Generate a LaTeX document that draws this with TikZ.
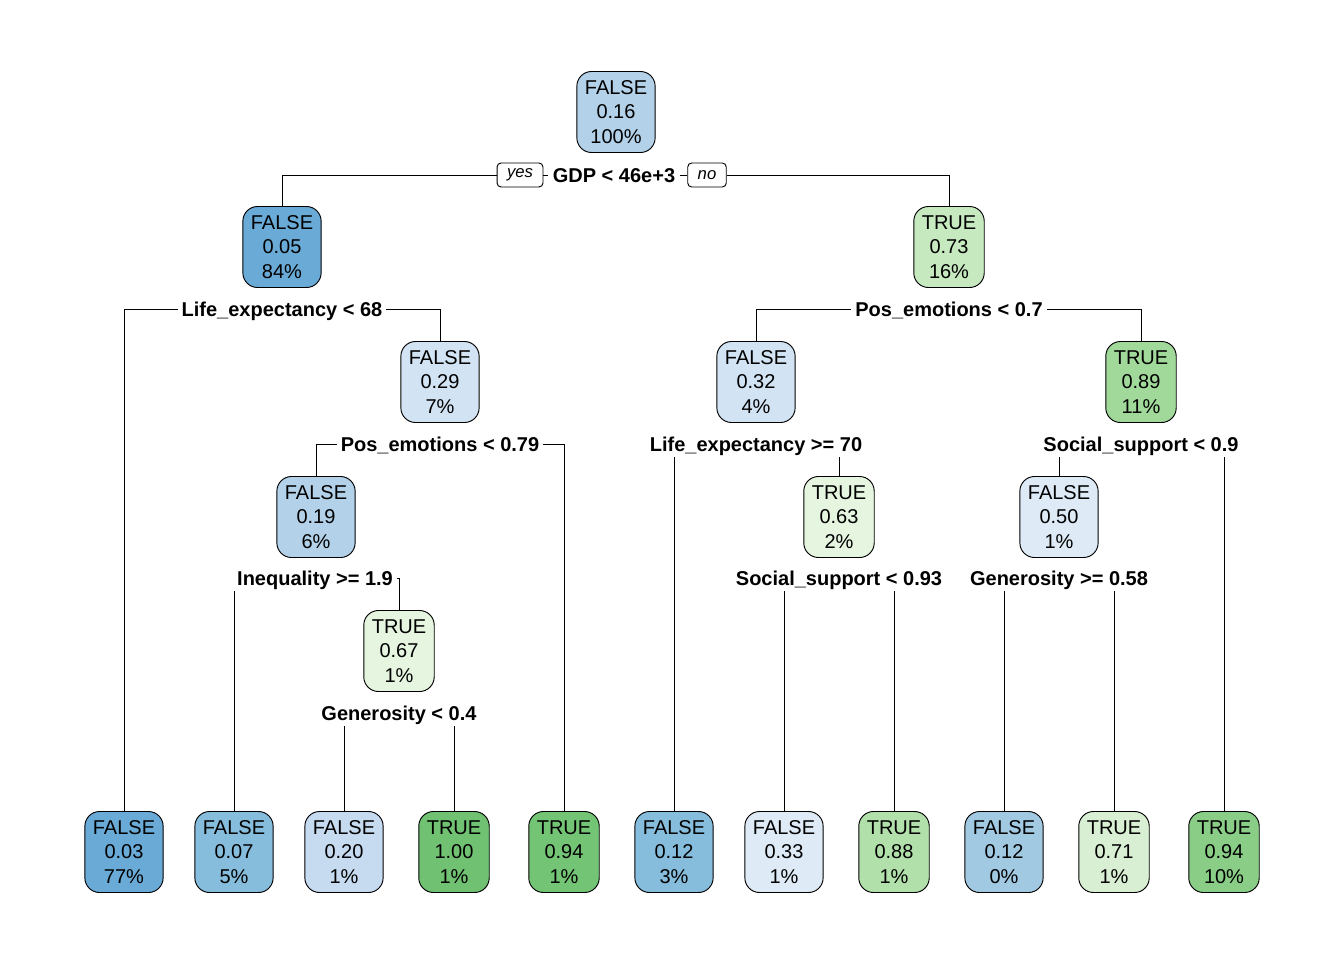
\documentclass[tikz,border=0pt]{standalone}
\usepackage{fontspec}
\setmainfont{Liberation Sans}
\usetikzlibrary{backgrounds}
\definecolor{bRoot}{HTML}{B3D2E9}
\definecolor{bDark}{HTML}{6AAAD6}
\definecolor{bMid}{HTML}{86BCDC}
\definecolor{bSoft}{HTML}{A1C9E2}
\definecolor{bLight}{HTML}{C6DBEF}
\definecolor{bPale}{HTML}{D2E3F3}
\definecolor{bFaint}{HTML}{DEEBF7}
\definecolor{gDark}{HTML}{70C172}
\definecolor{gMid}{HTML}{74C476}
\definecolor{gSoft}{HTML}{89CD87}
\definecolor{gLight}{HTML}{A1D99B}
\definecolor{gPale}{HTML}{B2E0AB}
\definecolor{gFaint}{HTML}{C7E9C0}
\definecolor{gWhite}{HTML}{D8EFD3}
\definecolor{gSnow}{HTML}{E5F5E0}
\begin{document}
\begin{tikzpicture}[x=0.75pt,y=-0.75pt,line width=0.7pt]
\tikzset{nb/.style={draw,rounded corners=11pt,align=center,font=\fontsize{15}{18.4}\selectfont,minimum height=60.75pt,inner xsep=6pt},sp/.style={fill=white,font=\fontsize{15}{18}\selectfont\bfseries,text height=14pt,text depth=3.2pt,inner ysep=1.2pt,inner xsep=3pt},yn/.style={draw,fill=white,rounded corners=3pt,font=\fontsize{12.5}{14}\selectfont\itshape,minimum height=18pt,inner xsep=7.5pt,inner ysep=0pt}}
\useasboundingbox (0,0) rectangle (1344,960);
% inner nodes
\node[nb,fill=bRoot] (n1) at (616,112) {FALSE\\0.16\\100\%};
\node[nb,fill=bDark] (n2) at (282,247) {FALSE\\0.05\\84\%}; \node[nb,fill=gFaint] (n3) at (949,247) {TRUE\\0.73\\16\%};
\node[nb,fill=bPale] (n4) at (440,382) {FALSE\\0.29\\7\%}; \node[nb,fill=bPale] (n5) at (756,382) {FALSE\\0.32\\4\%}; \node[nb,fill=gLight] (n6) at (1141,382) {TRUE\\0.89\\11\%};
\node[nb,fill=bRoot] (n7) at (316,517) {FALSE\\0.19\\6\%}; \node[nb,fill=gSnow] (n8) at (839,517) {TRUE\\0.63\\2\%}; \node[nb,fill=bFaint] (n9) at (1059,517) {FALSE\\0.50\\1\%};
\node[nb,fill=gSnow] (n10) at (399,651) {TRUE\\0.67\\1\%};
% leaves
\node[nb,fill=bDark] (l1) at (124,852) {FALSE\\0.03\\77\%}; \node[nb,fill=bMid] (l2) at (234,852) {FALSE\\0.07\\5\%};
\node[nb,fill=bLight] (l3) at (344,852) {FALSE\\0.20\\1\%}; \node[nb,fill=gDark] (l4) at (454,852) {TRUE\\1.00\\1\%};
\node[nb,fill=gMid] (l5) at (564,852) {TRUE\\0.94\\1\%}; \node[nb,fill=bMid] (l6) at (674,852) {FALSE\\0.12\\3\%};
\node[nb,fill=bFaint] (l7) at (784,852) {FALSE\\0.33\\1\%}; \node[nb,fill=gPale] (l8) at (894,852) {TRUE\\0.88\\1\%};
\node[nb,fill=bSoft] (l9) at (1004,852) {FALSE\\0.12\\0\%}; \node[nb,fill=gWhite] (l10) at (1114,852) {TRUE\\0.71\\1\%};
\node[nb,fill=gSoft] (l11) at (1224,852) {TRUE\\0.94\\10\%};
% split labels
\node[sp] (s1) at (614,175) {GDP < 46e+3};
\node[yn] (yes) at (520,175) {yes}; \node[yn] (no) at (707,175) {no};
\node[sp] (s2) at (282,309) {Life\_expectancy < 68}; \node[sp] (s3) at (949,309) {Pos\_emotions < 0.7};
\node[sp] (s4) at (440,444) {Pos\_emotions < 0.79}; \node[sp] (s5) at (756,444) {Life\_expectancy >= 70}; \node[sp] (s6) at (1141,444) {Social\_support < 0.9};
\node[sp] (s7) at (315,578) {Inequality >= 1.9}; \node[sp] (s8) at (839,578) {Social\_support < 0.93}; \node[sp] (s9) at (1059,578) {Generosity >= 0.58};
\node[sp] (s10) at (399,713) {Generosity < 0.4};
\begin{scope}[on background layer]
\draw (n2.north) |- (yes) -- (s1) -- (no) -| (n3.north);
\draw (l1.north) |- (s2.center) -| (n4.north); \draw (n5.north) |- (s3.center) -| (n6.north);
\draw (n7.north) |- (s4.center) -| (l5.north); \draw (l6.north) |- (s5.center) -| (n8.north); \draw (n9.north) |- (s6.center) -| (l11.north);
\draw (l2.north) |- (s7.center) -| (n10.north); \draw (l7.north) |- (s8.center) -| (l8.north); \draw (l9.north) |- (s9.center) -| (l10.north);
\draw (l3.north) |- (s10.center) -| (l4.north);
\end{scope}
\end{tikzpicture}
\end{document}
